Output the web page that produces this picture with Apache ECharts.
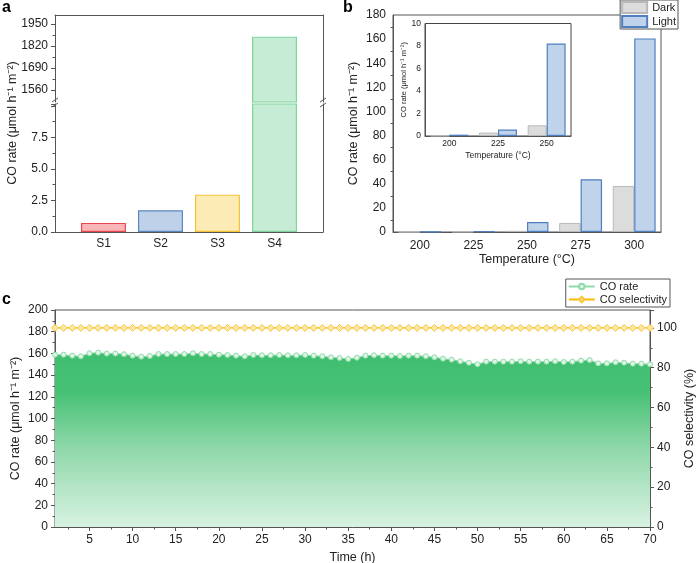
<!DOCTYPE html>
<html><head><meta charset="utf-8">
<script src="https://cdn.jsdelivr.net/npm/echarts@6/dist/echarts.min.js"></script>
<style>html,body{margin:0;padding:0;background:#fff}#c{width:697px;height:563px}</style>
</head><body><div id="c"></div>
<script>
// ---------- data ----------
const samplesA = ['S1', 'S2', 'S3', 'S4'];
const rateA = [0.72, 1.73, 2.96, 1875];
const lowerTicksA = [0, 2.5, 5, 7.5];
const upperTicksA = [1560, 1690, 1820, 1950];

const tempsB = ['200', '225', '250', '275', '300'];
const darkB = [0.03, 0.3, 0.95, 7.5, 38.2];
const lightB = [0.12, 0.58, 8.22, 43.8, 160.6];
const insetTempsB = ['200', '225', '250'];
const insetDarkB = [0.03, 0.3, 0.95];
const insetLightB = [0.12, 0.58, 8.22];

const hoursC = [1,2,3,4,5,6,7,8,9,10,11,12,13,14,15,16,17,18,19,20,21,22,23,24,25,26,27,28,29,30,
  31,32,33,34,35,36,37,38,39,40,41,42,43,44,45,46,47,48,49,50,51,52,53,54,55,56,57,58,59,60,
  61,62,63,64,65,66,67,68,69,70];
const rateC = [158.8,158.8,157.9,157.3,160.1,160.7,159.8,159.8,159.2,157.9,
  157.0,157.6,159.4,159.4,159.4,159.4,160.1,159.4,159.4,158.8,
  158.5,157.9,157.3,158.5,158.2,158.2,158.5,158.2,158.2,158.5,
  157.9,157.3,156.4,155.8,154.8,156.0,157.9,158.2,157.9,157.9,
  157.6,157.9,157.9,157.3,156.4,155.1,154.2,152.7,151.4,149.9,
  152.4,152.4,152.4,152.4,152.7,152.4,152.4,152.4,152.7,152.1,
  152.4,153.3,153.9,150.8,150.8,151.8,151.4,150.5,150.5,149.9];
const selC = [100,100,100,100,100,100,100,100,100,100,100,100,100,100,100,100,100,100,100,100,
  100,100,100,100,100,100,100,100,100,100,100,100,100,100,100,100,100,100,100,100,
  100,100,100,100,100,100,100,100,100,100,100,100,100,100,100,100,100,100,100,100,
  100,100,100,100,100,100,100,100,100,100];
const timeTicksC = [5,10,15,20,25,30,35,40,45,50,55,60,65,70];
const timeMinorC = [2.5,7.5,12.5,17.5,22.5,27.5,32.5,37.5,42.5,47.5,52.5,57.5,62.5,67.5];

// ---------- styles ----------
const FONT = '"Liberation Sans", Arial, Helvetica, sans-serif';
const AX = '#555';
const TXT = '#222';
const fillA = ['#f8b6b9', '#bfd1e8', '#fdebb6', '#c6ecd5'];
const borderA = ['#e9464e', '#5b86c1', '#f5c234', '#7dd49c'];
const YNAME = 'CO rate (\u03bcmol h\u207b\u00b9 m\u207b\u00b2)';

const line = (show = true) => ({ show, lineStyle: { color: AX, width: 1 } });
const lbl = (o) => Object.assign({ color: TXT, fontSize: 12, fontFamily: FONT }, o || {});

const chart = echarts.init(document.getElementById('c'), null, { renderer: 'canvas' });

const aMin = 0.15, aMax = 4.85, upMin = 1489, upMax = 2003, lowMax = 10.15;
const G = { outerBoundsMode: 'none', containLabel: false };

const option = {
  animation: false,
  backgroundColor: '#fff',
  textStyle: { fontFamily: FONT },
  grid: [
    Object.assign({ left: 55, top: 104, width: 268, height: 128 }, G),          // 0 a lower
    Object.assign({ left: 55, top: 15, width: 268, height: 87 }, G),            // 1 a upper
    Object.assign({ left: 393, top: 15, width: 268, height: 217, show: true, borderColor: AX, borderWidth: 1 }, G), // 2 b
    Object.assign({ left: 425, top: 23.5, width: 146, height: 112.5, show: true, borderColor: '#444', borderWidth: 1, backgroundColor: '#fff' }, G), // 3 inset
    Object.assign({ left: 55, top: 310, width: 595, height: 217, show: true, borderColor: AX, borderWidth: 1 }, G) // 4 c
  ],
  xAxis: [
    { type: 'value', gridIndex: 0, min: aMin, max: aMax, position: 'bottom', axisLine: line(), axisTick: { show: false }, splitLine: { show: false },
      axisLabel: lbl({ customValues: [1, 2, 3, 4], formatter: v => samplesA[Math.round(v) - 1], margin: 6 }) },
    { type: 'value', gridIndex: 1, min: aMin, max: aMax, position: 'top', axisLine: line(), axisTick: { show: false },
      axisLabel: { show: false }, splitLine: { show: false } },
    { type: 'category', gridIndex: 2, data: tempsB, position: 'bottom', axisLine: line(), axisTick: { show: false },
      axisLabel: lbl({ margin: 8 }), name: 'Temperature (\u00b0C)', nameLocation: 'middle', nameGap: 18,
      nameTextStyle: lbl({ fontSize: 12.5 }) },
    { type: 'category', gridIndex: 3, data: insetTempsB, position: 'bottom', axisLine: line(), axisTick: { show: false },
      axisLabel: lbl({ fontSize: 8.5, margin: 3 }), name: 'Temperature (\u00b0C)', nameLocation: 'middle', nameGap: 15,
      nameTextStyle: lbl({ fontSize: 8.5 }) },
    { type: 'value', gridIndex: 4, min: 1, max: 70, position: 'bottom', axisLine: line(), splitLine: { show: false },
      axisTick: { customValues: timeTicksC, length: 4, lineStyle: { color: AX } },
      axisLabel: lbl({ customValues: timeTicksC, margin: 7 }),
      name: 'Time (h)', nameLocation: 'middle', nameGap: 24, nameMoveOverlap: false, nameTextStyle: lbl({ fontSize: 12.5 }) },
    { type: 'value', gridIndex: 4, min: 1, max: 70, position: 'bottom', axisLine: { show: false }, splitLine: { show: false },
      axisTick: { customValues: timeMinorC, length: 2.5, lineStyle: { color: AX } }, axisLabel: { show: false } }
  ],
  yAxis: [
    { type: 'value', gridIndex: 0, min: 0, max: lowMax, interval: 2.5, position: 'left', axisLine: line(), splitLine: { show: false },
      axisTick: { show: true, length: 4, lineStyle: { color: AX } },
      minorTick: { show: true, splitNumber: 2, length: 2.5, lineStyle: { color: AX } },
      axisLabel: lbl({ customValues: lowerTicksA, formatter: v => v.toFixed(1), margin: 7 }) },
    { type: 'value', gridIndex: 0, min: 0, max: lowMax, position: 'right', axisLine: line(), axisTick: { show: false },
      axisLabel: { show: false }, splitLine: { show: false } },
    { type: 'value', gridIndex: 1, min: upMin, max: upMax, position: 'left', axisLine: line(), splitLine: { show: false },
      axisTick: { customValues: upperTicksA, length: 4, lineStyle: { color: AX } },
      axisLabel: lbl({ customValues: upperTicksA, formatter: v => String(v), margin: 7 }) },
    { type: 'value', gridIndex: 1, min: upMin, max: upMax, position: 'left', axisLine: { show: false }, splitLine: { show: false },
      axisTick: { customValues: [1625, 1755, 1885], length: 2.5, lineStyle: { color: AX } }, axisLabel: { show: false } },
    { type: 'value', gridIndex: 1, min: upMin, max: upMax, position: 'right', axisLine: line(), axisTick: { show: false },
      axisLabel: { show: false }, splitLine: { show: false } },
    // 5: b main
    { type: 'value', gridIndex: 2, min: 0, max: 180, interval: 20, position: 'left', axisLine: line(), splitLine: { show: false },
      axisTick: { length: 4, lineStyle: { color: AX } },
      minorTick: { show: true, splitNumber: 2, length: 2.5, lineStyle: { color: AX } },
      axisLabel: lbl({ margin: 7 }), name: YNAME, nameLocation: 'middle', nameGap: 33, nameTextStyle: lbl({ fontSize: 12.5 }) },
    // 6: inset
    { type: 'value', gridIndex: 3, min: 0, max: 10, interval: 2, position: 'left', axisLine: line(), splitLine: { show: false },
      axisTick: { length: 2.5, lineStyle: { color: AX } },
      axisLabel: lbl({ fontSize: 8.5, margin: 4 }), name: YNAME, nameLocation: 'middle', nameGap: 16,
      nameTextStyle: lbl({ fontSize: 7.5 }) },
    // 7: c left
    { type: 'value', gridIndex: 4, min: 0, max: 200, interval: 20, position: 'left', axisLine: line(), splitLine: { show: false },
      axisTick: { length: 4, lineStyle: { color: AX } },
      minorTick: { show: true, splitNumber: 2, length: 2.5, lineStyle: { color: AX } },
      axisLabel: lbl({ margin: 7 }), name: YNAME, nameLocation: 'middle', nameGap: 33, nameMoveOverlap: false,
      nameTextStyle: lbl({ fontSize: 12.5 }) },
    // 8: c right
    { type: 'value', gridIndex: 4, min: 0, max: 109, interval: 20, position: 'right', axisLine: line(), splitLine: { show: false },
      axisTick: { length: 4, lineStyle: { color: AX } },
      minorTick: { show: true, splitNumber: 2, length: 2.5, lineStyle: { color: AX } },
      axisLabel: lbl({ margin: 7, showMaxLabel: false }), name: 'CO selectivity (%)', nameLocation: 'middle', nameGap: 33,
      nameMoveOverlap: false, nameTextStyle: lbl({ fontSize: 12.5 }) }
  ],
  legend: [
    { data: ['Dark', 'Light'], right: 19, top: 0, orient: 'vertical', icon: 'rect', itemWidth: 25, itemHeight: 11, itemGap: 1,
      padding: [1, 2, 1, 1], borderColor: '#555', borderWidth: 1, backgroundColor: '#fff',
      textStyle: lbl({ fontSize: 11, lineHeight: 13 }) },
    { data: ['CO rate', 'CO selectivity'], right: 27, top: 279, orient: 'vertical', itemWidth: 26, itemHeight: 7, itemGap: 0,
      padding: [1, 3, 1, 2], borderColor: '#555', borderWidth: 1, backgroundColor: '#fff',
      textStyle: lbl({ fontSize: 11, lineHeight: 13 }) }
  ],
  series: [
    { type: 'bar', xAxisIndex: 0, yAxisIndex: 0, barWidth: 45, clip: true,
      data: rateA.map((v, i) => ({ value: [i + 1, v], itemStyle: { color: fillA[i], borderColor: borderA[i], borderWidth: 1.2 } })) },
    { type: 'bar', xAxisIndex: 1, yAxisIndex: 2, barWidth: 45, clip: true,
      data: rateA.map((v, i) => v > upMin ? { value: [i + 1, v], itemStyle: { color: fillA[i], borderColor: borderA[i], borderWidth: 1.2 } } : { value: [i + 1, '-'] }) },
    { name: 'Dark', type: 'bar', xAxisIndex: 2, yAxisIndex: 5, data: darkB, barGap: '0%', barCategoryGap: '20%',
      itemStyle: { color: '#dcdcdc', borderColor: '#b9b9b9', borderWidth: 1 } },
    { name: 'Light', type: 'bar', xAxisIndex: 2, yAxisIndex: 5, data: lightB, barGap: '0%', barCategoryGap: '20%',
      itemStyle: { color: '#bfd3ea', borderColor: '#4f7fbf', borderWidth: 1.2 } },
    { name: 'Dark', type: 'bar', xAxisIndex: 3, yAxisIndex: 6, data: insetDarkB, barGap: '0%', barCategoryGap: '22%',
      itemStyle: { color: '#dcdcdc', borderColor: '#b9b9b9', borderWidth: 1 } },
    { name: 'Light', type: 'bar', xAxisIndex: 3, yAxisIndex: 6, data: insetLightB, barGap: '0%', barCategoryGap: '22%',
      itemStyle: { color: '#bfd3ea', borderColor: '#4f7fbf', borderWidth: 1.2 } },
    { name: 'CO rate', type: 'line', xAxisIndex: 4, yAxisIndex: 7, data: hoursC.map((h, i) => [h, rateC[i]]),
      symbol: 'circle', symbolSize: 5, showAllSymbol: true,
      lineStyle: { color: '#8edaa9', width: 1 },
      itemStyle: { color: '#dff6e7', borderColor: '#8edaa9', borderWidth: 1 },
      areaStyle: { opacity: 1, color: new echarts.graphic.LinearGradient(0, 0, 0, 1, [
        { offset: 0, color: '#3fbe6e' }, { offset: 0.22, color: '#46c174' }, { offset: 0.55, color: '#8fd8aa' }, { offset: 1, color: '#d8f2e2' }]) } },
    { name: 'CO selectivity', type: 'line', xAxisIndex: 4, yAxisIndex: 8, data: hoursC.map((h, i) => [h, selC[i]]),
      symbol: 'diamond', symbolSize: 7, showAllSymbol: true,
      lineStyle: { color: '#fbb800', width: 1.2 },
      itemStyle: { color: '#fde8a3', borderColor: '#f9c53a', borderWidth: 1 } }
  ],
  graphic: [
    { type: 'text', left: 2, top: 0, style: { text: 'a', font: 'bold 16px ' + FONT, fill: '#000' } },
    { type: 'text', left: 343, top: 0, style: { text: 'b', font: 'bold 16px ' + FONT, fill: '#000' } },
    { type: 'text', left: 2, top: 292, style: { text: 'c', font: 'bold 16px ' + FONT, fill: '#000' } },
    { type: 'text', x: 13, y: 123, rotation: Math.PI / 2, style: { text: YNAME, font: '12.5px ' + FONT, fill: TXT, align: 'center', verticalAlign: 'middle' } },
    { type: 'line', shape: { x1: 52, y1: 102, x2: 58, y2: 98 }, style: { stroke: AX, lineWidth: 1 } },
    { type: 'line', shape: { x1: 52, y1: 107, x2: 58, y2: 103 }, style: { stroke: AX, lineWidth: 1 } },
    { type: 'line', shape: { x1: 320, y1: 102, x2: 326, y2: 98 }, style: { stroke: AX, lineWidth: 1 } },
    { type: 'line', shape: { x1: 320, y1: 107, x2: 326, y2: 103 }, style: { stroke: AX, lineWidth: 1 } }
  ]
};
chart.setOption(option);
</script>
</body></html>
